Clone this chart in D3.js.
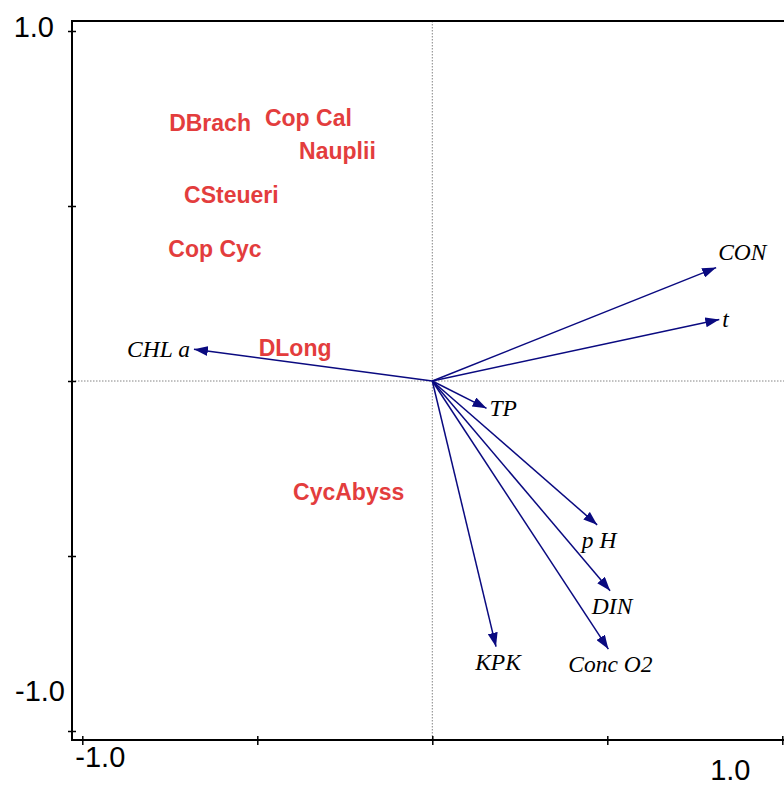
<!DOCTYPE html>
<html>
<head>
<meta charset="utf-8">
<script src="https://cdn.jsdelivr.net/npm/d3@7"></script>
<style>
  body { margin: 0; background: #fff; }
  svg { display: block; }
</style>
</head>
<body>
<div class="biplot"></div>
<script>
// species scores (axis 1, axis 2)
const speciesNames = ['DBrach', 'Cop Cal', 'Nauplii', 'CSteueri', 'Cop Cyc', 'DLong', 'CycAbyss'];
const speciesX = [-0.635, -0.354, -0.271, -0.574, -0.621, -0.392, -0.239];
const speciesY = [0.738, 0.751, 0.657, 0.532, 0.378, 0.094, -0.317];

// environmental variables (arrow tips)
const envNames = ['CHL a', 'CON', 't', 'TP', 'p H', 'DIN', 'Conc O2', 'KPK'];
const envX = [-0.681, 0.811, 0.820, 0.155, 0.471, 0.508, 0.503, 0.182];
const envY = [0.091, 0.324, 0.176, -0.078, -0.411, -0.599, -0.766, -0.759];

const tickValues = [-1, -0.5, 0, 0.5, 1];
const tickLabels = ['-1.0', '1.0'];

const W = 784, H = 785;
const svg = d3.select('.biplot').append('svg').attr('width', W).attr('height', H);

const x = d3.scaleLinear().domain([-1, 1]).range([82.3, 782.3]);
const y = d3.scaleLinear().domain([-1, 1]).range([731, 31]);

const frameLeft = 72, frameTop = 21, frameBottom = 740;

// zero lines
svg.append('line')
  .attr('x1', x(0)).attr('x2', x(0)).attr('y1', frameTop).attr('y2', frameBottom)
  .attr('stroke', '#666').attr('stroke-width', 0.8).attr('stroke-dasharray', '1.5,1.5');
svg.append('line')
  .attr('x1', frameLeft).attr('x2', W).attr('y1', y(0)).attr('y2', y(0))
  .attr('stroke', '#666').attr('stroke-width', 0.8).attr('stroke-dasharray', '1.5,1.5');

// frame
svg.append('path')
  .attr('d', 'M' + (W + 5) + ',' + frameTop + 'H' + frameLeft + 'V' + frameBottom + 'H' + (W + 5))
  .attr('fill', 'none').attr('stroke', '#000').attr('stroke-width', 2);

// ticks
const yAxis = svg.append('g')
  .attr('transform', 'translate(' + frameLeft + ',0)')
  .call(d3.axisLeft(y).tickValues(tickValues).tickSizeInner(4).tickSizeOuter(0).tickFormat(''));
yAxis.select('.domain').remove();
yAxis.selectAll('.tick line').attr('x1', 4).attr('stroke-width', 1.5);

const xAxis = svg.append('g')
  .attr('transform', 'translate(0,' + frameBottom + ')')
  .call(d3.axisBottom(x).tickValues(tickValues).tickSizeInner(5).tickSizeOuter(0).tickFormat(''));
xAxis.select('.domain').remove();
xAxis.selectAll('.tick line').attr('y1', -4).attr('stroke-width', 1.5);

// tick labels
const tickFont = { family: 'Liberation Sans, Arial, sans-serif', size: 29 };
svg.append('text').text(tickLabels[1])
  .attr('x', 54).attr('y', y(1) + 6).attr('text-anchor', 'end');
svg.append('text').text(tickLabels[0])
  .attr('x', 65).attr('y', y(-1) - 30).attr('text-anchor', 'end');
svg.append('text').text(tickLabels[0])
  .attr('x', x(-1) + 18).attr('y', frameBottom + 27).attr('text-anchor', 'middle');
svg.append('text').text(tickLabels[1])
  .attr('x', x(1) - 52).attr('y', frameBottom + 40).attr('text-anchor', 'middle');
svg.selectAll('text')
  .attr('font-family', tickFont.family).attr('font-size', tickFont.size).attr('fill', '#000');

// arrows
const navy = '#0a0a80';
svg.append('defs').append('marker')
  .attr('id', 'head')
  .attr('viewBox', '0 0 14 10')
  .attr('refX', 14).attr('refY', 5)
  .attr('markerWidth', 14).attr('markerHeight', 10)
  .attr('markerUnits', 'userSpaceOnUse')
  .attr('orient', 'auto')
  .append('path').attr('d', 'M0,0L14,5L0,10Z').attr('fill', navy);

const env = envNames.map(function(n, i) { return { name: n, x: envX[i], y: envY[i] }; });

svg.selectAll('.arrow')
  .data(env)
  .enter().append('line')
  .attr('class', 'arrow')
  .attr('x1', x(0)).attr('y1', y(0))
  .attr('x2', function(d) { return x(d.x); })
  .attr('y2', function(d) { return y(d.y); })
  .attr('stroke', navy).attr('stroke-width', 1.5)
  .attr('marker-end', 'url(#head)');

// label placement beside the arrow tip
function placement(d) {
  if (d.name === 'CON') return { dx: 2, dy: -8, anchor: 'start' };
  if (d.x < 0) return { dx: -4, dy: 8, anchor: 'end' };
  if (Math.abs(d.y) > Math.abs(d.x) * 0.8) return { dx: 2, dy: 23, anchor: 'middle' };
  return { dx: 3, dy: 8, anchor: 'start' };
}

svg.selectAll('.envlabel')
  .data(env)
  .enter().append('text')
  .attr('class', 'envlabel')
  .attr('x', function(d) { return x(d.x) + placement(d).dx; })
  .attr('y', function(d) { return y(d.y) + placement(d).dy; })
  .attr('text-anchor', function(d) { return placement(d).anchor; })
  .attr('font-family', 'Liberation Serif, Times New Roman, serif')
  .attr('font-style', 'italic')
  .attr('font-size', 23.5)
  .attr('fill', '#000')
  .text(function(d) { return d.name; });

// species labels
const species = speciesNames.map(function(n, i) { return { name: n, x: speciesX[i], y: speciesY[i] }; });

svg.selectAll('.species')
  .data(species)
  .enter().append('text')
  .attr('class', 'species')
  .attr('x', function(d) { return x(d.x); })
  .attr('y', function(d) { return y(d.y) + 8; })
  .attr('text-anchor', 'middle')
  .attr('font-family', 'Liberation Sans, Arial, sans-serif')
  .attr('font-weight', 'bold')
  .attr('font-size', 23)
  .attr('fill', '#e33d3d')
  .text(function(d) { return d.name; });
</script>
</body>
</html>
